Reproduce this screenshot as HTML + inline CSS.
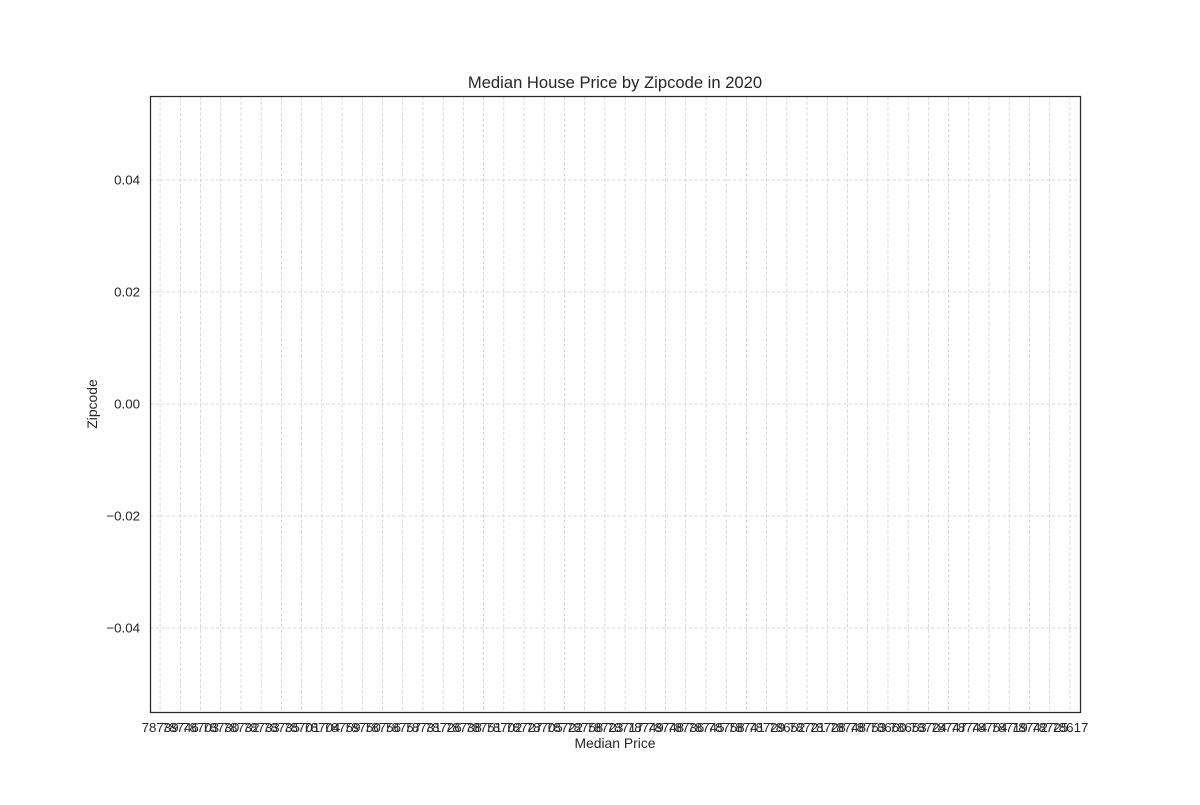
<!DOCTYPE html>
<html><head><meta charset="utf-8"><style>
html,body{margin:0;padding:0;background:#fff;}
svg text{font-family:"Liberation Sans",Arial,sans-serif;fill:#262626;}
</style></head><body>
<svg id="chart" width="1200" height="800" xmlns="http://www.w3.org/2000/svg">
<rect width="1200" height="800" fill="#fff"/>
<text x="615" y="88" font-size="16.6" text-anchor="middle">Median House Price by Zipcode in 2020</text>
<g id="grid"></g>
<g id="xticks"></g>
<g id="yticks"></g>
<rect x="150.5" y="96.5" width="930" height="616" fill="none" stroke="#262626" stroke-width="1.25"/>
<text x="615" y="748" font-size="13.9" text-anchor="middle">Median Price</text>
<text transform="translate(97,404) rotate(-90)" font-size="13.9" text-anchor="middle">Zipcode</text>
</svg>
<script>
const zipcodes = ["78739","78746","78703","78730","78732","78733","78735","78701","78704","78759","78750","78756","78757","78731","78726","78738","78751","78702","78727","78705","78722","78758","78723","78717","78749","78748","78736","78745","78758","78741","78729","78652","78721","78728","78748","78753","78660","78653","78724","78747","78744","78754","78719","78742","78725","78617"];
const medianPrices = [];
const yTicks = [-0.04,-0.02,0.00,0.02,0.04];
const yMin = -0.055, yMax = 0.055;
const L=150, R=1080, T=96, B=712;
const NS="http://www.w3.org/2000/svg";
const n = zipcodes.length;
function xScale(i){ return L + (i + 0.5) * (R - L) / n; }
function yScale(v){ return B - (v - yMin) / (yMax - yMin) * (B - T); }
const grid=document.getElementById('grid'), xt=document.getElementById('xticks'), yt=document.getElementById('yticks');
zipcodes.forEach((z,i)=>{
  const x=xScale(i);
  const g=document.createElementNS(NS,'line');
  g.setAttribute('x1',x);g.setAttribute('x2',x);g.setAttribute('y1',T);g.setAttribute('y2',B);
  g.setAttribute('stroke','#d0d0d0');g.setAttribute('stroke-width','0.8');g.setAttribute('stroke-dasharray','3.5,2');
  
  
  grid.appendChild(g);
  const t=document.createElementNS(NS,'text');
  t.setAttribute('x',x);t.setAttribute('y',732);t.setAttribute('font-size','13.3');t.setAttribute('text-anchor','middle');
  t.textContent=z;
  
  
  xt.appendChild(t);
});
yTicks.forEach(v=>{
  const y=yScale(v);
  const g=document.createElementNS(NS,'line');
  g.setAttribute('x1',L);g.setAttribute('x2',R);g.setAttribute('y1',y);g.setAttribute('y2',y);
  g.setAttribute('stroke','#d0d0d0');g.setAttribute('stroke-width','0.8');g.setAttribute('stroke-dasharray','3.5,2');
  
  
  grid.appendChild(g);
  const t=document.createElementNS(NS,'text');
  t.setAttribute('x',140);t.setAttribute('y',y+4.5);t.setAttribute('font-size','13.3');t.setAttribute('text-anchor','end');
  t.textContent=(v<0?'\u2212':'')+Math.abs(v).toFixed(2);
  
  
  yt.appendChild(t);
});
</script>
</body></html>
